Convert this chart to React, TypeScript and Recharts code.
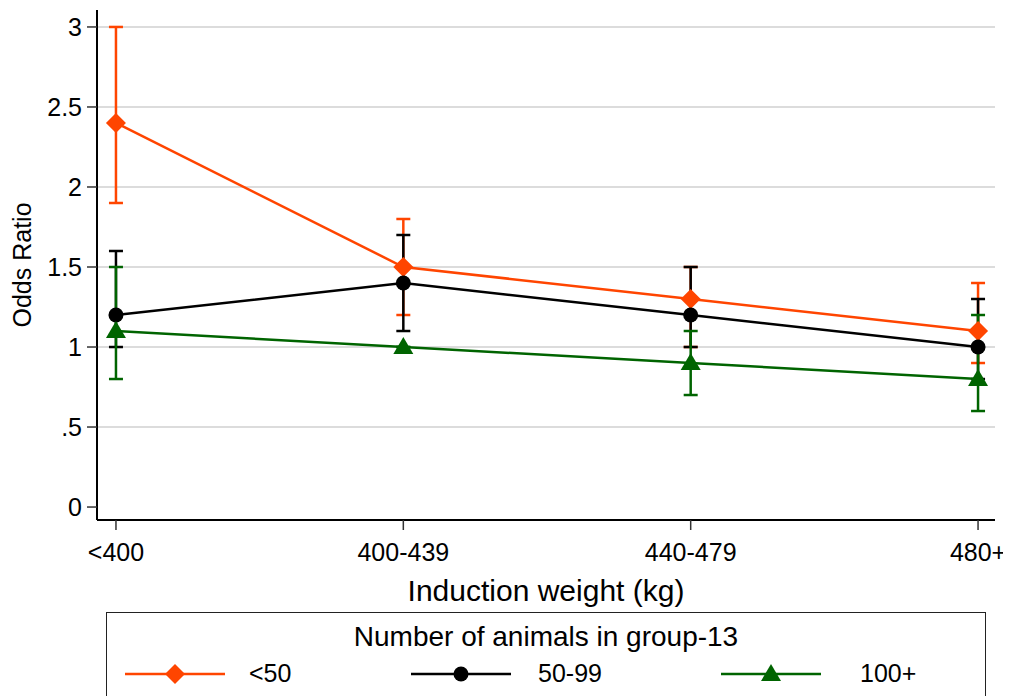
import React from 'react';
import {
  LineChart,
  Line,
  XAxis,
  YAxis,
  ErrorBar,
  ReferenceLine,
  Legend,
} from 'recharts';

const CATEGORIES = ['<400', '400-439', '440-479', '480+'];

// odds ratios with lower / upper confidence limits per herd size group
const SMALL_OR = [2.4, 1.5, 1.3, 1.1];
const SMALL_LO = [1.9, 1.2, 1.0, 0.9];
const SMALL_HI = [3.0, 1.8, 1.5, 1.4];

const MEDIUM_OR = [1.2, 1.4, 1.2, 1.0];
const MEDIUM_LO = [1.0, 1.1, 1.0, 0.8];
const MEDIUM_HI = [1.6, 1.7, 1.5, 1.3];

const LARGE_OR = [1.1, 1.0, 0.9, 0.8];
const LARGE_LO = [0.8, 1.0, 0.7, 0.6];
const LARGE_HI = [1.5, 1.0, 1.1, 1.2];

const Y_TICKS = [0, 0.5, 1, 1.5, 2, 2.5, 3];
const GRID_VALUES = [0.5, 1, 1.5, 2, 2.5, 3];

const ORANGE = '#ff4500';
const BLACK = '#000000';
const GREEN = '#006400';
const FONT = '"Liberation Sans", Arial, sans-serif';

const data = CATEGORIES.map((name, i) => ({
  x: i,
  name,
  small: SMALL_OR[i],
  smallErr: [SMALL_OR[i] - SMALL_LO[i], SMALL_HI[i] - SMALL_OR[i]],
  medium: MEDIUM_OR[i],
  mediumErr: [MEDIUM_OR[i] - MEDIUM_LO[i], MEDIUM_HI[i] - MEDIUM_OR[i]],
  large: LARGE_OR[i],
  largeErr: [LARGE_OR[i] - LARGE_LO[i], LARGE_HI[i] - LARGE_OR[i]],
}));

const X_DOMAIN: [number, number] = [-0.066, 3.059];
const Y_DOMAIN: [number, number] = [-0.081, 3.106];

const Diamond = ({ cx, cy, color }: any) => (
  <path d={`M${cx},${cy - 10}L${cx + 10},${cy}L${cx},${cy + 10}L${cx - 10},${cy}Z`} fill={color} />
);
const Dot = ({ cx, cy, color }: any) => <circle cx={cx} cy={cy} r={7.5} fill={color} />;
const Triangle = ({ cx, cy, color }: any) => (
  <path d={`M${cx},${cy - 10}L${cx + 10},${cy + 7}L${cx - 10},${cy + 7}Z`} fill={color} />
);

const SERIES = [
  { key: 'small', label: '<50', color: ORANGE, Marker: Diamond },
  { key: 'medium', label: '50-99', color: BLACK, Marker: Dot },
  { key: 'large', label: '100+', color: GREEN, Marker: Triangle },
];

const LEGEND_X = [
  { line: 18, text: 142 },
  { line: 304, text: 431 },
  { line: 614, text: 753 },
];

const renderLegend = () => (
  <div
    style={{
      border: '1.5px solid #222',
      width: 880,
      height: 100,
      boxSizing: 'border-box',
      position: 'relative',
      fontFamily: FONT,
      background: '#fff',
    }}
  >
    <div style={{ position: 'absolute', top: 8, width: '100%', textAlign: 'center', fontSize: 28 }}>
      Number of animals in group-13
    </div>
    {SERIES.map((s, i) => (
      <React.Fragment key={s.key}>
        <svg
          width={100}
          height={24}
          style={{ position: 'absolute', left: LEGEND_X[i].line, top: 49 }}
        >
          <line x1={0} x2={100} y1={12} y2={12} stroke={s.color} strokeWidth={2.5} />
          <s.Marker cx={50} cy={12} color={s.color} />
        </svg>
        <div style={{ position: 'absolute', left: LEGEND_X[i].text, top: 46, fontSize: 25 }}>
          {s.label}
        </div>
      </React.Fragment>
    ))}
  </div>
);

const YLabel = ({ viewBox }: any) => (
  <text
    x={14}
    y={viewBox.y + viewBox.height / 2}
    transform={`rotate(-90, 14, ${viewBox.y + viewBox.height / 2})`}
    textAnchor="middle"
    dominantBaseline="central"
    fontSize={25}
    fontFamily={FONT}
    fill="#000"
  >
    Odds Ratio
  </text>
);

const XLabel = ({ viewBox }: any) => (
  <text
    x={viewBox.x + viewBox.width / 2}
    y={593}
    textAnchor="middle"
    fontSize={30}
    fontFamily={FONT}
    fill="#000"
  >
    Induction weight (kg)
  </text>
);

export default function App() {
  return (
    <div style={{ position: 'relative', width: 1003, height: 688 }}>
      <LineChart
        width={1003}
        height={688}
        data={data}
        margin={{ top: 2, right: 16, bottom: 76, left: 0 }}
        style={{ fontFamily: FONT }}
      >
        <XAxis
          dataKey="x"
          type="number"
          domain={X_DOMAIN}
          ticks={[0, 1, 2, 3]}
          tickFormatter={(v: number) => CATEGORIES[v]}
          allowDataOverflow
          height={100}
          tickSize={10}
          tickMargin={13}
          axisLine={{ stroke: '#000', strokeWidth: 2 }}
          tickLine={{ stroke: '#333', strokeWidth: 1.5 }}
          tick={{ fill: '#000', fontSize: 25 }}
          label={<XLabel />}
        />
        <XAxis
          xAxisId="top"
          orientation="top"
          type="number"
          domain={X_DOMAIN}
          allowDataOverflow
          height={0}
          tick={false}
          tickLine={false}
          axisLine={{ stroke: '#222', strokeWidth: 1.5 }}
        />
        <YAxis
          type="number"
          domain={Y_DOMAIN}
          ticks={Y_TICKS}
          allowDataOverflow
          width={89}
          tickSize={10}
          tickMargin={5}
          tickFormatter={(v: number) => (v === 0.5 ? '.5' : String(v))}
          axisLine={{ stroke: '#000', strokeWidth: 2 }}
          tickLine={{ stroke: '#333', strokeWidth: 1.5 }}
          tick={{ fill: '#000', fontSize: 25 }}
          label={<YLabel />}
        />
        <YAxis
          yAxisId="right"
          orientation="right"
          type="number"
          domain={Y_DOMAIN}
          allowDataOverflow
          width={0}
          tick={false}
          tickLine={false}
          axisLine={{ stroke: '#333', strokeWidth: 1.5 }}
        />
        {GRID_VALUES.map((v) => (
          <ReferenceLine key={v} y={v} stroke="#dcdcdc" strokeWidth={2} />
        ))}
        {SERIES.map((s) => (
          <Line
            key={s.key}
            dataKey={s.key}
            stroke={s.color}
            strokeWidth={2.5}
            isAnimationActive={false}
            dot={(p: any) => <s.Marker key={p.index} cx={p.cx} cy={p.cy} color={s.color} />}
            activeDot={false}
            legendType="none"
          >
            <ErrorBar
              dataKey={`${s.key}Err`}
              direction="y"
              width={7}
              stroke={s.color}
              strokeWidth={2.5}
              isAnimationActive={false}
            />
          </Line>
        ))}
        <Legend
          content={renderLegend}
          layout="horizontal"
          verticalAlign="middle"
          wrapperStyle={{ position: 'absolute', left: 98, top: 604, width: 880, height: 100 }}
        />
      </LineChart>
    </div>
  );
}
